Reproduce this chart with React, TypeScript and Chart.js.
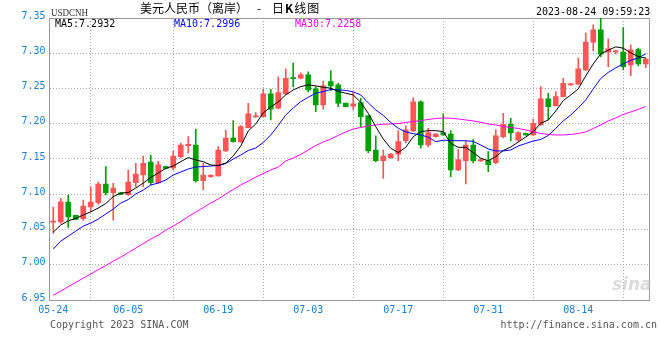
import React, { useEffect, useRef } from "react";
import { Chart, registerables } from "chart.js";

Chart.register(...registerables);

// ---------- data ----------
const dates = [
  "05-24", "05-25", "05-26", "05-27", "05-29", "05-30", "05-31", "06-01", "06-02", "06-03",
  "06-05", "06-06", "06-07", "06-08", "06-09", "06-10", "06-12", "06-13", "06-14", "06-15",
  "06-16", "06-17", "06-19", "06-20", "06-21", "06-22", "06-23", "06-24", "06-26", "06-27",
  "06-28", "06-29", "06-30", "07-01", "07-03", "07-04", "07-05", "07-06", "07-07", "07-08",
  "07-10", "07-11", "07-12", "07-13", "07-14", "07-15", "07-17", "07-18", "07-19", "07-20",
  "07-21", "07-22", "07-24", "07-25", "07-26", "07-27", "07-28", "07-29", "07-31", "08-01",
  "08-02", "08-03", "08-04", "08-05", "08-07", "08-08", "08-09", "08-10", "08-11", "08-12",
  "08-14", "08-15", "08-16", "08-17", "08-18", "08-19", "08-21", "08-22", "08-23", "08-24",
];

const openV = [
  7.0605, 7.0609, 7.0889, 7.0700, 7.0652, 7.0822, 7.0879, 7.1145, 7.1021, 7.1021,
  7.0993, 7.1163, 7.1273, 7.1457, 7.1163, 7.1391, 7.1372, 7.1533, 7.1689, 7.1699,
  7.1192, 7.1249, 7.1261, 7.1616, 7.1798, 7.1742, 7.1945, 7.2097, 7.2101, 7.2423,
  7.2220, 7.2423, 7.2655, 7.2646, 7.2693, 7.2494, 7.2267, 7.2598, 7.2551, 7.2291,
  7.2249, 7.2300, 7.2111, 7.1628, 7.1476, 7.1518, 7.1567, 7.1760, 7.1898, 7.2310,
  7.1699, 7.1817, 7.1874, 7.1855, 7.1344, 7.1476, 7.1699, 7.1472, 7.1476, 7.1447,
  7.1817, 7.1993, 7.1766, 7.1865, 7.1841, 7.1983, 7.2352, 7.2257, 7.2385, 7.2551,
  7.2561, 7.2764, 7.3158, 7.3332, 7.3016, 7.3020, 7.3016, 7.2835, 7.3053, 7.2849,
];

const highV = [
  7.0818, 7.0942, 7.0989, 7.0705, 7.0918, 7.1107, 7.1173, 7.1391, 7.1155, 7.1025,
  7.1344, 7.1439, 7.1543, 7.1553, 7.1467, 7.1400, 7.1614, 7.1727, 7.1817, 7.1922,
  7.1439, 7.1280, 7.1675, 7.1905, 7.2044, 7.1975, 7.2291, 7.2158, 7.2490, 7.2490,
  7.2661, 7.2774, 7.2859, 7.2722, 7.2736, 7.2523, 7.2604, 7.2754, 7.2575, 7.2295,
  7.2447, 7.2362, 7.2115, 7.1827, 7.1628, 7.1580, 7.1902, 7.1969, 7.2366, 7.2324,
  7.1936, 7.1860, 7.2139, 7.1902, 7.1635, 7.1756, 7.1777, 7.1500, 7.1604, 7.1912,
  7.2149, 7.2078, 7.1890, 7.1870, 7.2068, 7.2527, 7.2433, 7.2456, 7.2646, 7.2575,
  7.2930, 7.3286, 7.3403, 7.3500, 7.3205, 7.3045, 7.3365, 7.3119, 7.3072, 7.2930,
];

const lowV = [
  7.0449, 7.0587, 7.0530, 7.0640, 7.0634, 7.0751, 7.0861, 7.0989, 7.0634, 7.0995,
  7.0985, 7.1107, 7.1107, 7.1131, 7.1150, 7.1360, 7.1344, 7.1514, 7.1581, 7.1173,
  7.1060, 7.1240, 7.1255, 7.1604, 7.1740, 7.1735, 7.1940, 7.2090, 7.2095, 7.2054,
  7.2210, 7.2415, 7.2527, 7.2636, 7.2452, 7.2172, 7.2206, 7.2470, 7.2243, 7.2238,
  7.2196, 7.1959, 7.1589, 7.1462, 7.1226, 7.1510, 7.1476, 7.1727, 7.1890, 7.1652,
  7.1670, 7.1810, 7.1835, 7.1249, 7.1335, 7.1145, 7.1443, 7.1465, 7.1320, 7.1429,
  7.1798, 7.1756, 7.1750, 7.1835, 7.1835, 7.1975, 7.2054, 7.2250, 7.2380, 7.2545,
  7.2555, 7.2755, 7.3034, 7.2953, 7.2811, 7.2995, 7.2764, 7.2683, 7.2821, 7.2797,
];

const closeV = [
  7.0619, 7.0893, 7.0680, 7.0643, 7.0832, 7.0889, 7.1145, 7.1021, 7.1088, 7.0999,
  7.1173, 7.1287, 7.1439, 7.1163, 7.1419, 7.1368, 7.1543, 7.1699, 7.1709, 7.1192,
  7.1273, 7.1268, 7.1628, 7.1798, 7.1746, 7.1959, 7.2139, 7.2111, 7.2423, 7.2206,
  7.2442, 7.2646, 7.2641, 7.2693, 7.2480, 7.2267, 7.2537, 7.2537, 7.2291, 7.2243,
  7.2281, 7.2101, 7.1618, 7.1476, 7.1543, 7.1571, 7.1746, 7.1912, 7.2310, 7.1699,
  7.1876, 7.1855, 7.1841, 7.1344, 7.1493, 7.1699, 7.1476, 7.1493, 7.1419, 7.1827,
  7.1993, 7.1869, 7.1876, 7.1841, 7.2007, 7.2352, 7.2243, 7.2385, 7.2575, 7.2565,
  7.2778, 7.3158, 7.3332, 7.2987, 7.3063, 7.3027, 7.2811, 7.3048, 7.2849, 7.2916,
];

const ma5 = [
  7.0463, 7.0563, 7.0624, 7.0658, 7.0705, 7.0751, 7.0804, 7.0868, 7.0967, 7.1017,
  7.1024, 7.1088, 7.1159, 7.1237, 7.1301, 7.1368, 7.1401, 7.1462, 7.1521, 7.1486,
  7.1462, 7.1415, 7.1408, 7.1443, 7.1543, 7.1685, 7.1898, 7.1997, 7.2153, 7.2239,
  7.2310, 7.2409, 7.2480, 7.2527, 7.2551, 7.2537, 7.2518, 7.2504, 7.2459, 7.2433,
  7.2409, 7.2303, 7.2149, 7.1959, 7.1784, 7.1652, 7.1592, 7.1666, 7.1817, 7.1888,
  7.1902, 7.1902, 7.1888, 7.1723, 7.1666, 7.1666, 7.1590, 7.1510, 7.1476, 7.1533,
  7.1621, 7.1670, 7.1741, 7.1812, 7.1888, 7.2007, 7.2053, 7.2181, 7.2328, 7.2409,
  7.2494, 7.2679, 7.2849, 7.2991, 7.3044, 7.3091, 7.3072, 7.3006, 7.2953, 7.2932,
];

const ma10 = [
  7.0222, 7.0335, 7.0406, 7.0477, 7.0548, 7.0591, 7.0648, 7.0719, 7.0790, 7.0875,
  7.0925, 7.1003, 7.1060, 7.1131, 7.1159, 7.1202, 7.1273, 7.1315, 7.1358, 7.1386,
  7.1393, 7.1401, 7.1408, 7.1436, 7.1500, 7.1557, 7.1621, 7.1656, 7.1734, 7.1841,
  7.1976, 7.2125, 7.2224, 7.2314, 7.2376, 7.2433, 7.2456, 7.2487, 7.2480, 7.2473,
  7.2452, 7.2409, 7.2296, 7.2196, 7.2118, 7.2018, 7.1936, 7.1884, 7.1860, 7.1841,
  7.1810, 7.1746, 7.1766, 7.1763, 7.1759, 7.1759, 7.1749, 7.1699, 7.1642, 7.1614,
  7.1614, 7.1628, 7.1685, 7.1720, 7.1756, 7.1777, 7.1834, 7.1935, 7.2040, 7.2125,
  7.2224, 7.2338, 7.2494, 7.2643, 7.2728, 7.2793, 7.2849, 7.2899, 7.2935, 7.2991,
];

const ma30 = [
  6.9568, 6.9625, 6.9689, 6.9749, 6.9810, 6.9871, 6.9930, 6.9987, 7.0051, 7.0108,
  7.0172, 7.0236, 7.0300, 7.0364, 7.0420, 7.0491, 7.0548, 7.0612, 7.0683, 7.0747,
  7.0811, 7.0875, 7.0932, 7.1003, 7.1067, 7.1131, 7.1187, 7.1244, 7.1294, 7.1344,
  7.1386, 7.1472, 7.1514, 7.1564, 7.1628, 7.1692, 7.1741, 7.1784, 7.1834, 7.1884,
  7.1926, 7.1947, 7.1969, 7.1983, 7.1993, 7.1997, 7.2004, 7.2018, 7.2033, 7.2044,
  7.2061, 7.2075, 7.2082, 7.2078, 7.2068, 7.2054, 7.2040, 7.2021, 7.1997, 7.1983,
  7.1962, 7.1947, 7.1933, 7.1912, 7.1884, 7.1862, 7.1848, 7.1841, 7.1841, 7.1848,
  7.1862, 7.1884, 7.1933, 7.1983, 7.2040, 7.2082, 7.2132, 7.2168, 7.2203, 7.2246,
];

const tickDates = ["05-24", "06-05", "06-19", "07-03", "07-17", "07-31", "08-14"];
const yTicks = [6.95, 7.0, 7.05, 7.1, 7.15, 7.2, 7.25, 7.3, 7.35];

const UP = "#ff5555";
const DOWN = "#00a000";
const AXIS_BLUE = "#1a7fd0";
const MONO = "'DejaVu Sans Mono', monospace";

export default function App() {
  const ref = useRef<HTMLCanvasElement>(null);

  useEffect(() => {
    if (!ref.current) return;
    const n = dates.length;
    const colors = dates.map((_, i) => (closeV[i] >= openV[i] ? UP : DOWN));
    const bodies = dates.map((_, i) => ({ x: i + 0.5, y: [openV[i], closeV[i]] }));
    const wicks = dates.map((_, i) => ({ x: i + 0.5, y: [lowV[i], highV[i]] }));
    const line = (arr: number[]) => arr.map((v, i) => ({ x: i + 0.5, y: v }));
    const tickVals = tickDates.map((d) => dates.indexOf(d) + 0.5);

    const framePlugin = {
      id: "frame",
      beforeDatasetsDraw(chart: any) {
        const { ctx, chartArea: a } = chart;
        ctx.save();
        ctx.strokeStyle = "#999999";
        ctx.lineWidth = 1;
        const l = Math.floor(a.left) + 0.5;
        const t = Math.floor(a.top) + 0.5;
        const r = Math.floor(a.right) + 0.5;
        const b = Math.floor(a.bottom) + 0.5;
        ctx.strokeRect(l, t, r - l, b - t);
        ctx.restore();
      },
    };

    const gridCommon = { color: "#a8a8a8", drawTicks: false, lineWidth: 1 };
    const borderCommon = { display: false, dash: [1, 2] };

    const chart = new Chart(ref.current, {
      type: "bar",
      data: {
        datasets: [
          {
            type: "line",
            label: "MA5",
            data: line(ma5),
            borderColor: "#000000",
            borderWidth: 1,
            pointRadius: 0,
            tension: 0,
            order: 0,
          } as any,
          {
            type: "line",
            label: "MA10",
            data: line(ma10),
            borderColor: "#0000ff",
            borderWidth: 1,
            pointRadius: 0,
            tension: 0,
            order: 0,
          } as any,
          {
            type: "line",
            label: "MA30",
            data: line(ma30),
            borderColor: "#ff00ff",
            borderWidth: 1,
            pointRadius: 0,
            tension: 0,
            order: 0,
          } as any,
          {
            type: "bar",
            label: "body",
            data: bodies,
            backgroundColor: colors,
            borderWidth: 0,
            barThickness: 5,
            minBarLength: 1,
            grouped: false,
            order: 1,
          } as any,
          {
            type: "bar",
            label: "wick",
            data: wicks,
            backgroundColor: colors,
            borderWidth: 0,
            barThickness: 1,
            grouped: false,
            order: 2,
          } as any,
        ],
      },
      options: {
        responsive: false,
        animation: false,
        devicePixelRatio: 1,
        layout: { padding: { top: 18, right: 10.5, left: 0, bottom: 0 } },
        plugins: { legend: { display: false }, tooltip: { enabled: false } },
        scales: {
          x: {
            type: "linear",
            min: 0,
            max: n,
            offset: false,
            afterBuildTicks: (s: any) => {
              s.ticks = tickVals.map((v) => ({ value: v }));
            },
            afterFit: (s: any) => {
              s.height = 60;
            },
            ticks: {
              autoSkip: false,
              maxRotation: 0,
              padding: 4,
              color: AXIS_BLUE,
              font: { family: MONO, size: 10 },
              callback: (_v: any, i: number) => tickDates[i],
            },
            grid: gridCommon,
            border: borderCommon,
          },
          y: {
            type: "linear",
            min: yTicks[0],
            max: yTicks[yTicks.length - 1],
            afterBuildTicks: (s: any) => {
              s.ticks = yTicks.map((v) => ({ value: v }));
            },
            afterFit: (s: any) => {
              s.width = 49.5;
            },
            ticks: {
              padding: 4,
              labelOffset: -2,
              color: AXIS_BLUE,
              font: { family: MONO, size: 10 },
              callback: (v: any) => Number(v).toFixed(2),
            },
            grid: gridCommon,
            border: borderCommon,
          },
        },
      } as any,
      plugins: [framePlugin],
    });
    return () => chart.destroy();
  }, []);

  const abs = (extra: React.CSSProperties): React.CSSProperties => ({
    position: "absolute",
    whiteSpace: "pre",
    lineHeight: "12px",
    margin: 0,
    ...extra,
  });

  return (
    <div style={{ position: "absolute", left: 0, top: 0, width: 660, height: 360, background: "#ffffff", overflow: "hidden" }}>
      <canvas ref={ref} width={660} height={360} style={{ position: "absolute", left: 0, top: 0, width: 660, height: 360 }} />
      <span style={abs({ left: 51, top: 6, fontFamily: "'Liberation Serif', serif", fontSize: 11, color: "#333", transform: "scaleX(0.82)", transformOrigin: "left top" })}>USDCNH</span>
      <span style={abs({ left: 140, top: 2, fontFamily: "'Noto Sans CJK SC', sans-serif", fontSize: 12, color: "#000" })}>美元人民币（离岸）</span>
      <span style={abs({ left: 257, top: 2, fontFamily: "'Noto Sans CJK SC', sans-serif", fontSize: 12, color: "#000" })}>-</span>
      <span style={abs({ left: 272, top: 2, fontFamily: "'Noto Sans CJK SC', sans-serif", fontSize: 12, color: "#000", letterSpacing: 1 })}>日<b>K</b>线图</span>
      <span style={abs({ left: 536, top: 5.5, fontFamily: MONO, fontSize: 10, color: "#000" })}>2023-08-24 09:59:23</span>
      <span style={abs({ left: 55, top: 18, fontFamily: MONO, fontSize: 10, color: "#000" })}>MA5:7.2932</span>
      <span style={abs({ left: 174, top: 18, fontFamily: MONO, fontSize: 10, color: "#0000ff" })}>MA10:7.2996</span>
      <span style={abs({ left: 295, top: 18, fontFamily: MONO, fontSize: 10, color: "#ff00ff" })}>MA30:7.2258</span>
      <span style={abs({ left: 612, top: 274, fontFamily: "'DejaVu Sans', sans-serif", fontSize: 17, lineHeight: "20px", fontStyle: "italic", fontWeight: "bold", color: "rgba(190,190,190,0.55)" })}>sina</span>
      <span style={abs({ left: 50, top: 319, fontFamily: MONO, fontSize: 10, color: "#555" })}>Copyright 2023 SINA.COM</span>
      <span style={abs({ right: 3, top: 319, fontFamily: MONO, fontSize: 10, color: "#555" })}>http://finance.sina.com.cn</span>
    </div>
  );
}
